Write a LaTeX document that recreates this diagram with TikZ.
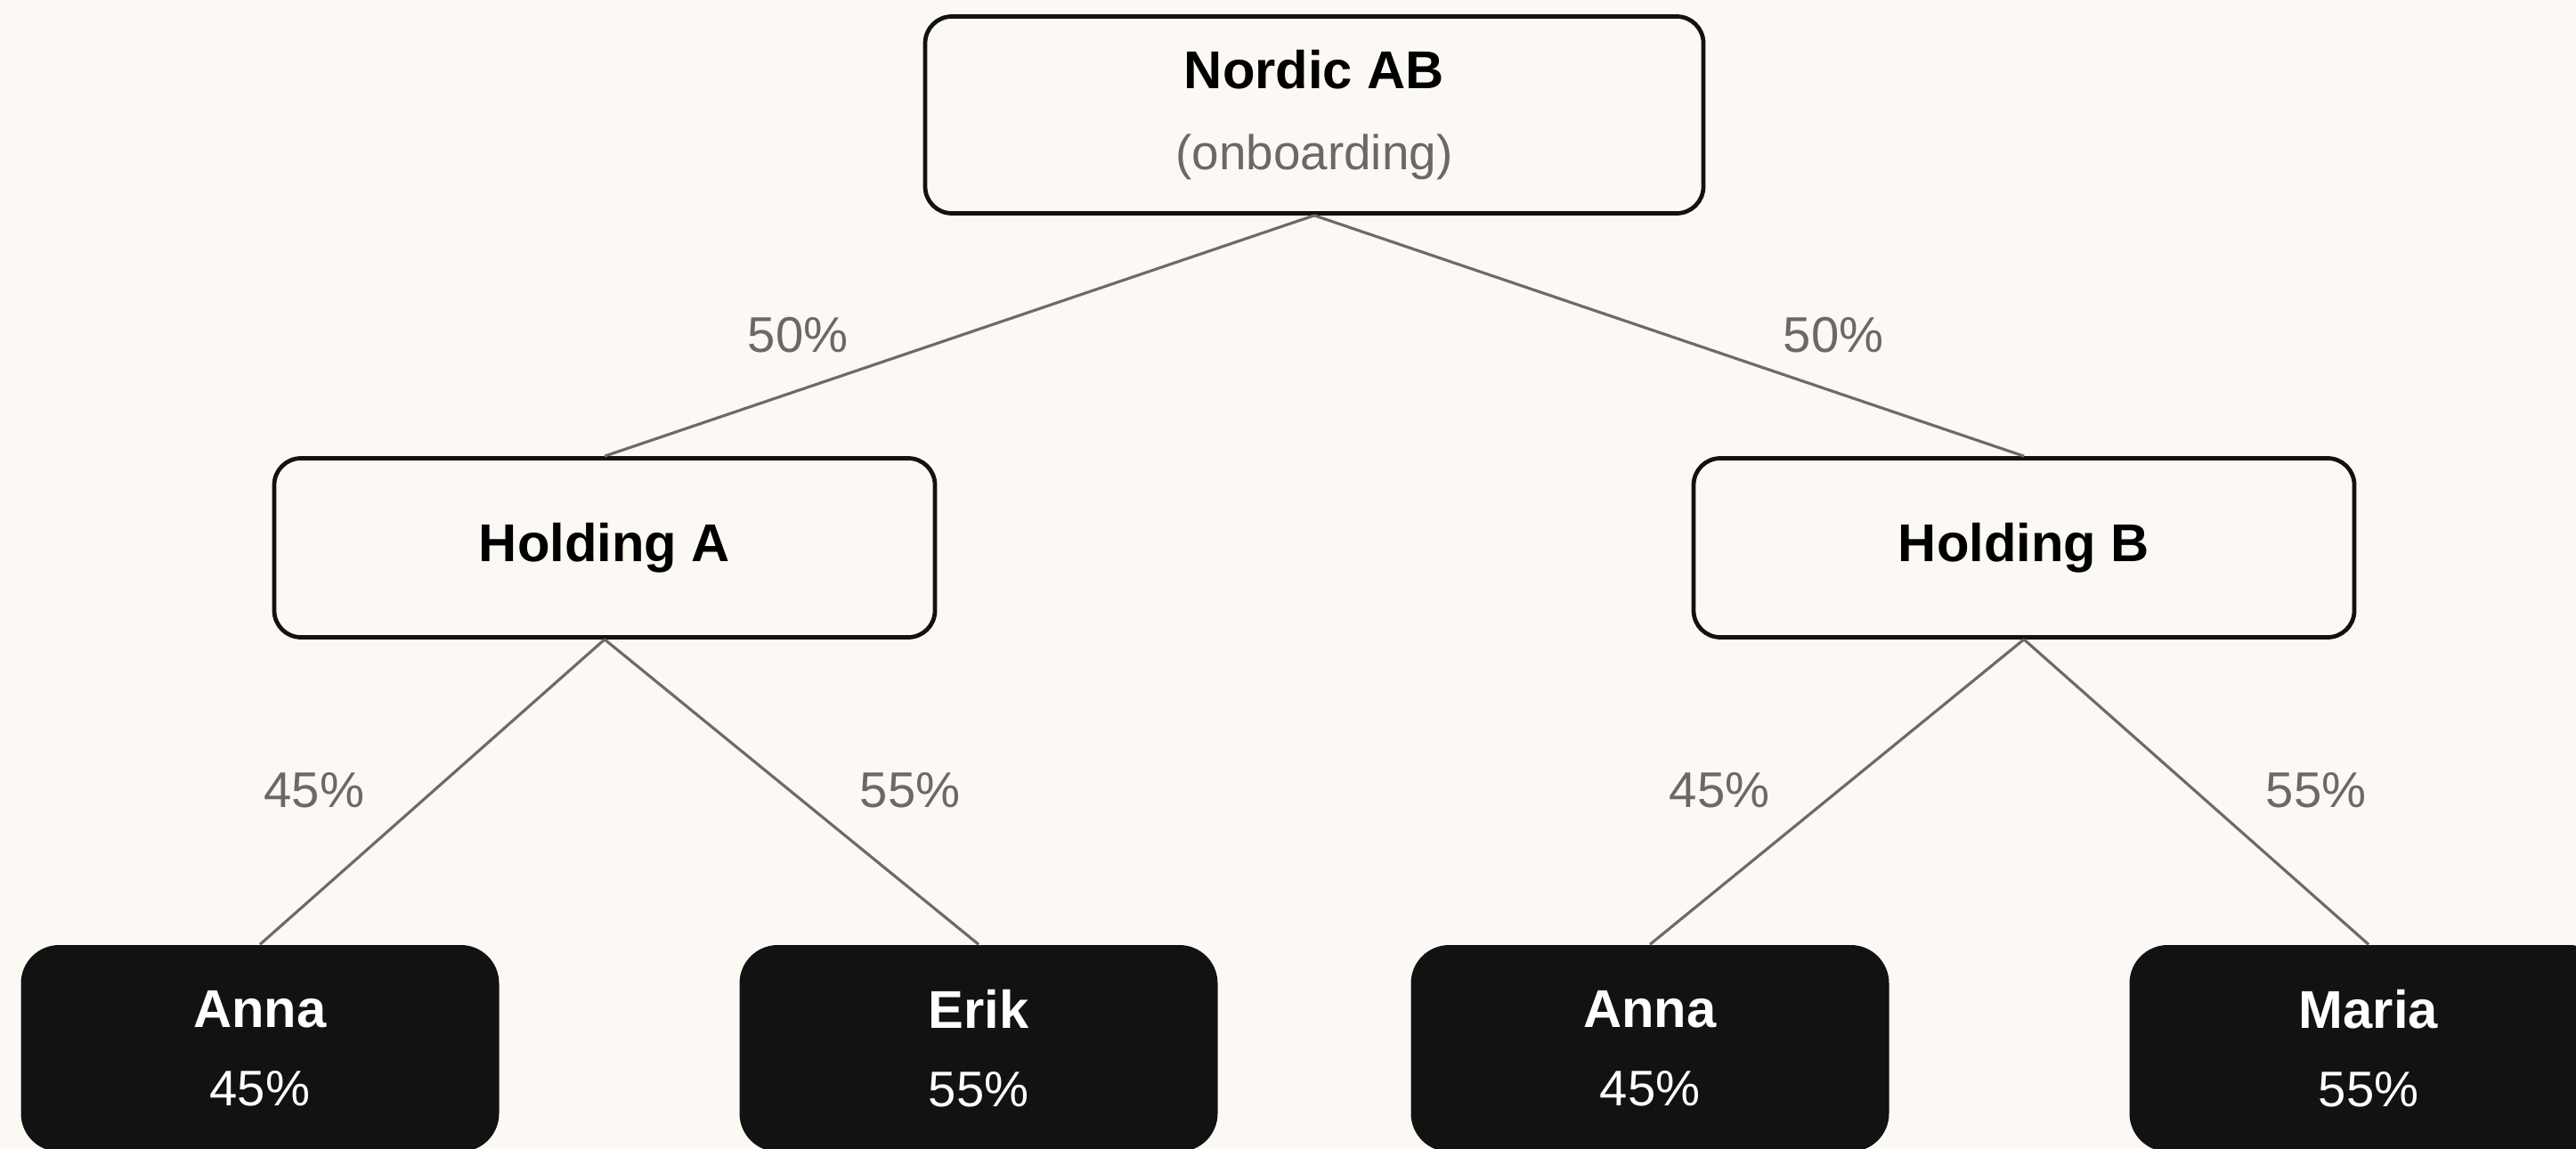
\documentclass[tikz,border=0pt]{standalone}
\usepackage{fontspec}
\setmainfont{Liberation Sans}
\definecolor{paper}{HTML}{FCF9F4}
\definecolor{ink}{HTML}{121212}
\definecolor{wire}{HTML}{6E6A66}
\definecolor{soft}{HTML}{6B6866}
\begin{document}
\begin{tikzpicture}[
        entity/.style={draw=ink,line width=1.35pt,fill=paper,rounded corners=0.3cm,align=center,inner sep=0pt,font=\fontsize{17}{26}\selectfont},
        owner/.style={fill=ink,text=white,rounded corners=0.43cm,minimum width=5.37cm,minimum height=2.32cm,align=center,inner sep=0pt,font=\fontsize{16}{25}\selectfont},
        share/.style={text=soft,font=\fontsize{16}{19}\selectfont},
        link/.style={draw=wire,line width=0.9pt}]
        \useasboundingbox (0,0) rectangle (28.93,12.89);
        \fill[paper] (0,0) rectangle (28.93,12.89);
        \clip (0,0) rectangle (28.93,12.89);
        \node[entity,minimum width=8.74cm,minimum height=2.21cm] (1) at (14.76,11.60) {\textbf{Nordic AB}\\{\color{soft}\fontsize{15.6}{26}\selectfont(onboarding)}};
        \node[entity,minimum width=7.42cm,minimum height=2.01cm] (2) at (6.79,6.74) {\textbf{Holding A}};
        \node[entity,minimum width=7.42cm,minimum height=2.01cm] (3) at (22.73,6.74) {\textbf{Holding B}};
        \node[owner] (4) at (2.92,1.12) {{\fontsize{17}{25}\selectfont\textbf{Anna}}\\45\%};
        \node[owner] (5) at (10.99,1.12) {{\fontsize{17}{25}\selectfont\textbf{Erik}}\\55\%};
        \node[owner] (6) at (18.53,1.12) {{\fontsize{17}{25}\selectfont\textbf{Anna}}\\45\%};
        \node[owner] (7) at (26.60,1.12) {{\fontsize{17}{25}\selectfont\textbf{Maria}}\\55\%};
        \path[link] (1.south) -- (2.north);
        \path[link] (1.south) -- (3.north);
        \path[link] (2.south) -- (4.north);
        \path[link] (2.south) -- (5.north);
        \path[link] (3.south) -- (6.north);
        \path[link] (3.south) -- (7.north);
        \node[share] (8) at (8.96,9.13) {50\%};
        \node[share] (9) at (20.59,9.13) {50\%};
        \node[share] (10) at (3.53,4.02) {45\%};
        \node[share] (11) at (10.22,4.02) {55\%};
        \node[share] (12) at (19.31,4.02) {45\%};
        \node[share] (13) at (26.01,4.02) {55\%};
    \end{tikzpicture}
\end{document}
